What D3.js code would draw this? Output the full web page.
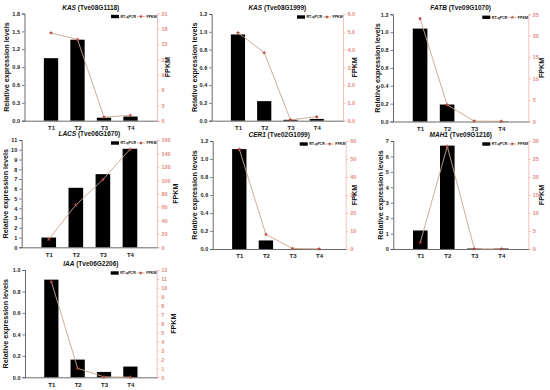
<!DOCTYPE html>
<html><head><meta charset="utf-8">
<script src="https://cdn.jsdelivr.net/npm/d3@7"></script>
<style>body{margin:0;background:#fff}svg{display:block}text{font-family:"Liberation Sans",Arial,sans-serif;font-weight:bold}</style>
</head><body><svg id="c" width="550" height="390"></svg>
<script>
const categories = ["T1","T2","T3","T4"];
const geneNames = ["KAS","KAS","FATB","LACS","CER1","MAH1","IAA"];
const geneIds = ["Tve08G1118","Tve08G1999","Tve09G1070","Tve06G1670","Tve02G1099","Tve09G1216","Tve06G2206"];
const rtKAS1 = [1.05,1.36,0.05,0.07];
const rtKAS2 = [0.97,0.22,0.01,0.02];
const rtFATB = [1.04,0.19,0.0,0.003];
const rtLACS = [1.0,6.1,7.5,10.1];
const rtCER1 = [1.11,0.095,0.0,0.0];
const rtMAH1 = [1.2,6.7,0.03,0.03];
const rtIAA = [0.91,0.165,0.05,0.1];
const fpkmKAS1 = [17.2,15.9,0.7,1.05];
const fpkmKAS2 = [4.95,3.83,0.05,0.22];
const fpkmFATB = [24.0,3.9,0.1,0.05];
const fpkmLACS = [12,63,101,146];
const fpkmCER1 = [55.4,8.1,0.3,0.1];
const fpkmMAH1 = [1.85,28.5,0.05,0.05];
const fpkmIAA = [10.7,1.0,0.05,0.02];
const leftTicks = [
  [0,0.3,0.6,0.9,1.2,1.5,1.8],
  [0,0.2,0.4,0.6,0.8,1.0,1.2],
  [0,0.2,0.4,0.6,0.8,1.0,1.2],
  [0,1,2,3,4,5,6,7,8,9,10,11],
  [0,0.2,0.4,0.6,0.8,1.0,1.2],
  [0,1,2,3,4,5,6,7],
  [0,0.2,0.4,0.6,0.8,1.0]
];
const rightTicks = [
  [0,3,6,9,12,15,18,21],
  [0,1,2,3,4,5,6],
  [0,5,10,15,20,25],
  [0,20,40,60,80,100,120,140,160],
  [0,10,20,30,40,50,60],
  [0,5,10,15,20,25,30],
  [0,1,2,3,4,5,6,7,8,9,10,11,12]
];
const leftFormat = [".1f",".1f",".1f","d",".1f","d",".1f"];
const rtSeries = [rtKAS1,rtKAS2,rtFATB,rtLACS,rtCER1,rtMAH1,rtIAA];
const fpkmSeries = [fpkmKAS1,fpkmKAS2,fpkmFATB,fpkmLACS,fpkmCER1,fpkmMAH1,fpkmIAA];

// layout: plot frame per panel, plus axis-title x positions
const layout = [
  {x0:24.5,x1:157,y0:13.5,y1:120.7,lt:7,rt:168},
  {x0:211.7,x1:343,y0:14,y1:120.7,lt:195,rt:355},
  {x0:393,x1:528.3,y0:14.3,y1:121.5,lt:378,rt:542.5},
  {x0:21.7,x1:157,y0:140,y1:247.3,lt:6.5,rt:176},
  {x0:212.7,x1:345.7,y0:141,y1:249,lt:195,rt:355},
  {x0:393.3,x1:528.3,y0:141,y1:249,lt:381.5,rt:542.5},
  {x0:25,x1:156.7,y0:270,y1:377.3,lt:6.5,rt:174}
];
const lineColor = "#caa58c", markColor = "#b5483c", rightColor = "#e58a84", rightAxisColor = "#f3b3ae";

const svg = d3.select("#c");
layout.forEach((L,i)=>{
  const g = svg.append("g");
  const x = d3.scalePoint().domain(categories).range([L.x0,L.x1]).padding(1);
  const lt = leftTicks[i], rtk = rightTicks[i];
  const yL = d3.scaleLinear().domain([lt[0], lt[lt.length-1]]).range([L.y1,L.y0]);
  const yR = d3.scaleLinear().domain([rtk[0], rtk[rtk.length-1]]).range([L.y1,L.y0]);
  const step = x.step(), bw = step*0.54;

  // bars
  g.selectAll("rect.bar").data(rtSeries[i]).join("rect")
    .attr("x",(d,j)=>x(categories[j])-bw/2).attr("width",bw)
    .attr("y",d=>yL(d)).attr("height",d=>Math.max(0,L.y1-yL(d))).attr("fill","#000");

  // left axis
  const la = g.append("g").attr("transform",`translate(${L.x0},0)`)
    .call(d3.axisLeft(yL).tickValues(lt).tickSize(2.5).tickPadding(2).tickFormat(d3.format(leftFormat[i])));
  la.select(".domain").attr("stroke","#444").attr("stroke-width",0.8);
  la.selectAll(".tick line").attr("stroke","#444").attr("stroke-width",0.7);
  la.selectAll("text").attr("font-size",5.5).attr("fill","#222");

  // right axis
  const ra = g.append("g").attr("transform",`translate(${L.x1},0)`)
    .call(d3.axisRight(yR).tickValues(rtk).tickSize(2.5).tickPadding(2));
  ra.select(".domain").attr("stroke",rightAxisColor).attr("stroke-width",0.8);
  ra.selectAll(".tick line").attr("stroke",rightAxisColor).attr("stroke-width",0.7);
  ra.selectAll("text").attr("font-size",5.5).attr("fill",rightColor);

  // bottom axis
  const ba = g.append("g").attr("transform",`translate(0,${L.y1})`)
    .call(d3.axisBottom(x).tickSize(0).tickPadding(5));
  ba.select(".domain").attr("stroke","#444").attr("stroke-width",0.8);
  ba.selectAll("text").attr("font-size",6).attr("fill","#222");

  // FPKM line
  const line = d3.line().x((d,j)=>x(categories[j])).y(d=>yR(d));
  g.append("path").datum(fpkmSeries[i]).attr("d",line).attr("fill","none")
    .attr("stroke",lineColor).attr("stroke-width",0.9);
  g.selectAll("path.mk").data(fpkmSeries[i]).join("path").attr("class","mk")
    .attr("transform",(d,j)=>`translate(${x(categories[j])},${yR(d)})`)
    .attr("d",d3.symbol().type(d3.symbolStar).size(6)).attr("fill",markColor);

  // title
  const t = g.append("text").attr("x",(L.x0+L.x1)/2).attr("y",L.y0-4)
    .attr("text-anchor","middle").attr("font-size",6.5).attr("fill","#111");
  t.append("tspan").attr("font-style","italic").text(geneNames[i]);
  t.append("tspan").text(" (" + geneIds[i] + ")");

  // axis titles
  g.append("text").attr("transform",`translate(${L.lt},${(L.y0+L.y1)/2}) rotate(-90)`)
    .attr("text-anchor","middle").attr("dominant-baseline","middle").attr("font-size",7.2).attr("fill","#111")
    .text("Relative expression levels");
  g.append("text").attr("transform",`translate(${L.rt},${(L.y0+L.y1)/2}) rotate(-90)`)
    .attr("text-anchor","middle").attr("dominant-baseline","middle").attr("font-size",7.2).attr("fill","#111")
    .text("FPKM");

  // legend
  const lx = L.x1 - 46, ly = L.y0 + 3;
  g.append("rect").attr("x",lx).attr("y",ly-1.7).attr("width",8).attr("height",3.4).attr("fill","#000");
  g.append("text").attr("x",lx+9.5).attr("y",ly+1.3).attr("font-size",3.6).attr("fill","#111").text("RT-qPCR");
  g.append("line").attr("x1",lx+26).attr("x2",lx+34).attr("y1",ly).attr("y2",ly).attr("stroke",lineColor).attr("stroke-width",0.8);
  g.append("path").attr("transform",`translate(${lx+30},${ly})`).attr("d",d3.symbol().type(d3.symbolStar).size(5)).attr("fill",markColor);
  g.append("text").attr("x",lx+35.5).attr("y",ly+1.3).attr("font-size",3.6).attr("fill","#111").text("FPKM");
});
</script></body></html>
